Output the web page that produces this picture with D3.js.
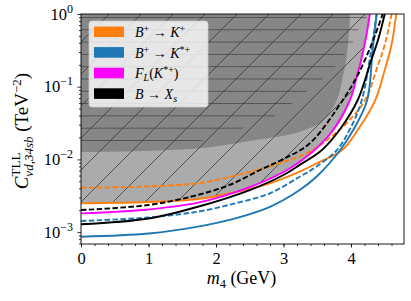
<!DOCTYPE html>
<html>
<head>
<meta charset="utf-8">
<script src="https://cdn.jsdelivr.net/npm/d3@7"></script>
<style>
  body { margin: 0; background: #fff; }
  svg { display: block; }
  text { font-family: "Liberation Serif", "DejaVu Serif", serif; fill: #000; }
</style>
</head>
<body>
<script>
// ---- data (m4 in GeV, coefficient in TeV^-2) ----
const orangeSolidM = [0, 1, 1.73, 2.3, 2.8, 3.24, 3.5, 3.87, 4.1, 4.36, 4.5, 4.6, 4.67];
const orangeSolidV = [2.49e-3, 2.59e-3, 2.85e-3, 3.56e-3, 4.69e-3, 6.78e-3, 8.9e-3, 0.01346, 0.0254, 0.0656, 0.170, 0.375, 1.0];

const orangeDashM = [0, 0.87, 1.73, 2.0, 2.5, 3.0, 3.39, 3.7, 3.95, 4.21, 4.4, 4.5, 4.6];
const orangeDashV = [4.08e-3, 4.21e-3, 4.69e-3, 5.21e-3, 6.71e-3, 9.2e-3, 0.01276, 0.0203, 0.0327, 0.0656, 0.199, 0.375, 1.0];

const blackDashM = [0, 1, 1.67, 2.2, 2.65, 3.0, 3.39, 3.88, 4.1, 4.3, 4.47];
const blackDashV = [2.01e-3, 2.36e-3, 3.14e-3, 4.45e-3, 7.15e-3, 0.01014, 0.01665, 0.0656, 0.145, 0.375, 1.0];

const magentaM = [0, 1, 1.73, 2.5, 3.0, 3.24, 3.46, 3.7, 3.985, 4.08, 4.15, 4.22, 4.28];
const magentaV = [1.81e-3, 2.05e-3, 2.54e-3, 4.17e-3, 6.71e-3, 9.3e-3, 0.01346, 0.0231, 0.0656, 0.132, 0.233, 0.468, 1.0];

const blackSolidM = [0, 1, 1.73, 2.5, 3.0, 3.24, 3.57, 3.85, 4.1, 4.3, 4.4, 4.5];
const blackSolidV = [1.28e-3, 1.54e-3, 2.23e-3, 3.79e-3, 6.1e-3, 8.4e-3, 0.01346, 0.027, 0.0656, 0.233, 0.439, 1.0];

const blueDashM = [0, 1, 1.73, 2.3, 2.8, 3.24, 3.5, 3.79, 4.0, 4.16, 4.3, 4.38];
const blueDashV = [1.42e-3, 1.59e-3, 1.91e-3, 2.51e-3, 3.42e-3, 5.78e-3, 8.1e-3, 0.01346, 0.0279, 0.0656, 0.32, 1.0];

const blueSolidM = [0, 1, 1.73, 2.3, 2.8, 3.24, 3.5, 3.84, 4.05, 4.24, 4.32, 4.38];
const blueSolidV = [0.865e-3, 0.957e-3, 1.19e-3, 1.56e-3, 2.23e-3, 3.79e-3, 5.91e-3, 0.01346, 0.027, 0.0656, 0.32, 1.0];

// shaded exclusion regions (lower boundaries)
const lightM = [0, 1, 1.73, 2.5, 3.0, 3.46, 3.985, 4.15, 4.28];
const lightV = [2.49e-3, 2.59e-3, 2.85e-3, 4.17e-3, 6.71e-3, 0.01346, 0.0656, 0.233, 1.0];

const darkM = [0, 1.63, 2.5, 3.39, 3.69, 3.87, 3.96, 3.985];
const darkV = [0.0126, 0.0139, 0.0179, 0.027, 0.0449, 0.124, 0.44, 1.0];

const hatchM = [0, 1.76, 2.36, 2.84, 3.10, 3.35, 3.58, 3.76, 3.91, 4.03, 4.10, 4.25];
const hatchV = [0.0135, 0.0179, 0.0262, 0.0383, 0.056, 0.0873, 0.128, 0.187, 0.282, 0.412, 0.583, 1.0];

const xTicks = [0, 1, 2, 3, 4];
const yTicks = [1e-3, 1e-2, 1e-1, 1];
const yTickExp = ["\u22123", "\u22122", "\u22121", "0"];

const legendItems = [
  {color: "#ff7f0e", label: "K"},
  {color: "#1f77b4", label: "K*"},
  {color: "#ff00ff", label: "FL"},
  {color: "#000000", label: "Xs"}
];

const W = 411, H = 301;
const margin = {left: 81, right: 7, top: 14, bottom: 57};
const chartW = W - margin.left - margin.right;
const chartH = H - margin.top - margin.bottom;

const svg = d3.select("body").append("svg")
    .attr("width", W).attr("height", H);

const x = d3.scaleLinear().domain([0, 4.785]).range([0, chartW]);
const y = d3.scaleLog().domain([6.86e-4, 1]).range([chartH, 0]);

const defs = svg.append("defs");
defs.append("clipPath").attr("id", "clip")
  .append("rect").attr("width", chartW).attr("height", chartH);

// hatch patterns
const diag = defs.append("pattern").attr("id", "diag")
    .attr("patternUnits", "userSpaceOnUse").attr("width", 32).attr("height", 32)
    .attr("x", 28);
diag.append("path").attr("d", "M-8,8 L8,-8 M0,32 L32,0 M24,40 L40,24")
    .attr("stroke", "#3a3a3a").attr("stroke-width", 0.8);
const horiz = defs.append("pattern").attr("id", "horiz")
    .attr("patternUnits", "userSpaceOnUse").attr("width", 12.3).attr("height", 12.3)
    .attr("y", 3);
horiz.append("path").attr("d", "M0,0 L12.3,0")
    .attr("stroke", "#222").attr("stroke-width", 1);

const g = svg.append("g")
    .attr("transform", "translate(" + margin.left + "," + margin.top + ")");

const plot = g.append("g").attr("clip-path", "url(#clip)");

const zip = (ms, vs) => ms.map((m, i) => [m, vs[i]]);

const area = d3.area()
    .x(d => x(d[0]))
    .y0(d => y(d[1]))
    .y1(0)
    .curve(d3.curveMonotoneX);

const regionPts = (ms, vs) => zip(ms, vs).concat([[ms[ms.length - 1] + 0.001, 1.2]]);

// light region
plot.append("path").datum(regionPts(lightM, lightV))
    .attr("d", area).attr("fill", "#ababab");
// darker overlay
plot.append("path").datum(regionPts(darkM, darkV))
    .attr("d", area).attr("fill", "#868686");
// hatching
plot.append("path").datum(regionPts(lightM, lightV))
    .attr("d", area).attr("fill", "url(#diag)");
plot.append("path").datum(regionPts(hatchM, hatchV))
    .attr("d", area).attr("fill", "url(#horiz)");

const line = d3.line()
    .x(d => x(d[0]))
    .y(d => y(d[1]))
    .curve(d3.curveCatmullRom.alpha(0.5));

const series = [
  {m: orangeSolidM, v: orangeSolidV, color: "#ff7f0e", dash: null},
  {m: orangeDashM, v: orangeDashV, color: "#ff7f0e", dash: "5.5,2.4"},
  {m: blueSolidM, v: blueSolidV, color: "#1f77b4", dash: null},
  {m: blueDashM, v: blueDashV, color: "#1f77b4", dash: "5.5,2.4"},
  {m: magentaM, v: magentaV, color: "#ff00ff", dash: null},
  {m: blackSolidM, v: blackSolidV, color: "#000000", dash: null},
  {m: blackDashM, v: blackDashV, color: "#000000", dash: "5.5,2.4"}
];

plot.selectAll(".curve")
  .data(series)
  .enter()
  .append("path")
    .attr("class", "curve")
    .attr("d", d => line(zip(d.m, d.v)))
    .attr("fill", "none")
    .attr("stroke", d => d.color)
    .attr("stroke-width", 1.9)
    .attr("stroke-dasharray", d => d.dash);

// axes
const xAxis = g.append("g").attr("transform", "translate(0," + chartH + ")");
xAxis.call(d3.axisBottom(x).tickValues(d3.range(0, 4.8, 0.2)).tickSize(2).tickFormat(""));
xAxis.call(a => a.append("g").call(d3.axisBottom(x).tickValues(xTicks).tickSize(3.5).tickPadding(3).tickFormat(d3.format("d"))));

const yMinor = [];
for (let e = -4; e < 0; e++) for (let k = 2; k < 10; k++) {
  const v = k * Math.pow(10, e);
  if (v >= 6.86e-4 && v <= 1) yMinor.push(v);
}
const yAxis = g.append("g");
yAxis.call(d3.axisLeft(y).tickValues(yMinor).tickSize(2).tickFormat(""));
yAxis.call(a => a.append("g").call(d3.axisLeft(y).tickValues(yTicks).tickSize(3.5).tickFormat("")));

svg.selectAll(".domain").remove();
svg.selectAll(".tick line").attr("stroke", "#000").attr("stroke-width", 0.8);

xAxis.selectAll("text").attr("font-size", 16.5).attr("font-family", "Liberation Serif").attr("dy", "0.8em");

// y tick labels 10^n
yTicks.forEach((v, i) => {
  const t = g.append("text")
      .attr("x", -8).attr("y", y(v) + 5.5)
      .attr("text-anchor", "end")
      .attr("font-size", 16.5);
  t.append("tspan").text("10");
  t.append("tspan").attr("dy", -7).attr("font-size", 12).text(yTickExp[i]);
});

// frame
g.append("rect").attr("width", chartW).attr("height", chartH)
    .attr("fill", "none").attr("stroke", "#000").attr("stroke-width", 0.9);

// x label
const xl = svg.append("text")
    .attr("x", margin.left + chartW / 2 - 1).attr("y", 284)
    .attr("text-anchor", "middle").attr("font-size", 18);
xl.append("tspan").attr("font-style", "italic").text("m");
xl.append("tspan").attr("font-size", 12.5).attr("dy", 3.5).text("4");
xl.append("tspan").attr("dy", -3.5).text(" (GeV)");

// y label
const yl = svg.append("g").attr("transform", "translate(28,131) rotate(-90)");
const ylt = yl.append("text").attr("text-anchor", "middle").attr("font-size", 19);
ylt.append("tspan").attr("font-style", "italic").text("C");
ylt.append("tspan").attr("font-size", 13).attr("dy", -8).text("TLL");
ylt.append("tspan").attr("font-size", 13).attr("font-style", "italic").attr("dy", 13).attr("dx", -24).text("\u03bdd,34sb");
ylt.append("tspan").attr("dy", -5).text(" (TeV");
ylt.append("tspan").attr("font-size", 13).attr("dy", -7).text("\u22122");
ylt.append("tspan").attr("dy", 7).text(")");

// legend
const lg = svg.append("g").attr("transform", "translate(89,21)");
lg.append("rect").attr("width", 119).attr("height", 86).attr("rx", 3)
    .attr("fill", "#ffffff").attr("fill-opacity", 0.8)
    .attr("stroke", "#cccccc").attr("stroke-width", 0.8);
legendItems.forEach((d, i) => {
  const row = lg.append("g").attr("transform", "translate(5," + (5.5 + i * 20.6) + ")");
  row.append("rect").attr("width", 30).attr("height", 10.6).attr("fill", d.color);
  const t = row.append("text").attr("x", 41).attr("y", 10.5).attr("font-size", 14);
  if (d.label === "K") {
    t.append("tspan").attr("font-style", "italic").text("B");
    t.append("tspan").attr("font-size", 10).attr("dy", -5).text("+");
    t.append("tspan").attr("dy", 5).text(" \u2192 ");
    t.append("tspan").attr("font-style", "italic").text("K");
    t.append("tspan").attr("font-size", 10).attr("dy", -5).text("+");
  } else if (d.label === "K*") {
    t.append("tspan").attr("font-style", "italic").text("B");
    t.append("tspan").attr("font-size", 10).attr("dy", -5).text("+");
    t.append("tspan").attr("dy", 5).text(" \u2192 ");
    t.append("tspan").attr("font-style", "italic").text("K");
    t.append("tspan").attr("font-size", 10).attr("dy", -5).text("*+");
  } else if (d.label === "FL") {
    t.append("tspan").attr("font-style", "italic").text("F");
    t.append("tspan").attr("font-size", 10).attr("font-style", "italic").attr("dy", 3).text("L");
    t.append("tspan").attr("dy", -3).text("(");
    t.append("tspan").attr("font-style", "italic").text("K");
    t.append("tspan").attr("font-size", 10).attr("dy", -5).text("*+");
    t.append("tspan").attr("dy", 5).text(")");
  } else {
    t.append("tspan").attr("font-style", "italic").text("B");
    t.append("tspan").text(" \u2192 ");
    t.append("tspan").attr("font-style", "italic").text("X");
    t.append("tspan").attr("font-size", 10).attr("font-style", "italic").attr("dy", 3).text("s");
  }
});
</script>
</body>
</html>
